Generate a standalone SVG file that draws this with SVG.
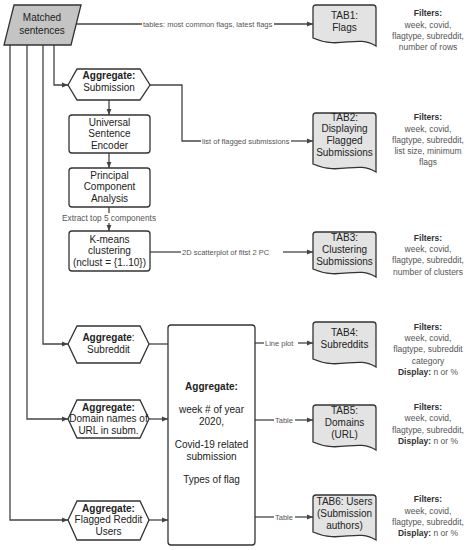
<svg xmlns="http://www.w3.org/2000/svg" width="467" height="550" viewBox="0 0 467 550">
<defs>
<marker id="ah" viewBox="0 0 10 10" refX="10" refY="5" markerWidth="6" markerHeight="6" markerUnits="userSpaceOnUse" orient="auto">
<path d="M0,1 L10,5 L0,9 Z" fill="#444"/>
</marker>
<style>
.ln{fill:none;stroke:#444;stroke-width:1.3}
.ar{marker-end:url(#ah)}
.nd{fill:#fff;stroke:#333;stroke-width:1.3}
.doc{fill:#e3e3e3;stroke:#333;stroke-width:1.3}
.par{fill:#c4c4c4;stroke:#333;stroke-width:1.3}
.t{font-family:"Liberation Sans",Arial,sans-serif;font-size:10px;fill:#222;text-anchor:middle}
.b{font-weight:bold}
.lb{font-family:"Liberation Sans",Arial,sans-serif;font-size:7.5px;fill:#555}
.f{font-family:"Liberation Sans",Arial,sans-serif;font-size:8.5px;fill:#555;text-anchor:middle}
.fb{font-weight:bold;fill:#333}
</style>
</defs>
<g id="connectors">
<path class="ln ar" d="M76,24 H142 M274,24 H313"/>
<path class="ln ar" d="M54,45 V85 H68"/>
<path class="ln" d="M150,85 H182 V141 H201"/>
<path class="ln ar" d="M291,141 H313"/>
<path class="ln ar" d="M109,100 V115"/>
<path class="ln ar" d="M109,153 V168"/>
<path class="ln" d="M109,207 V213"/>
<path class="ln ar" d="M109,223 V231"/>
<path class="ln" d="M150,252 H181"/>
<path class="ln ar" d="M283,252 H313"/>
<path class="ln ar" d="M43,45 V344 H68"/>
<path class="ln ar" d="M27,45 V419 H68"/>
<path class="ln ar" d="M10,45 V520 H68"/>
<path class="ln" d="M149,344 H168"/>
<path class="ln ar" d="M149,419 H168"/>
<path class="ln ar" d="M149,520 H168"/>
<path class="ln" d="M255,343 H264"/>
<path class="ln ar" d="M298,343 H313"/>
<path class="ln" d="M255,420 H274"/>
<path class="ln ar" d="M295,420 H313"/>
<path class="ln" d="M255,517 H274"/>
<path class="ln ar" d="M295,517 H313"/>
<text class="lb" x="143" y="26.7">tables: most common flags, latest flags</text>
<text class="lb" x="202" y="143.7">list of flagged submissions</text>
<text class="lb" x="109" y="220.8" text-anchor="middle" style="font-size:8.3px">Extract top 5 components</text>
<text class="lb" x="182" y="254.7">2D scatterplot of  fitst 2 PC</text>
<text class="lb" x="265" y="345.7">Line plot</text>
<text class="lb" x="275" y="422.7">Table</text>
<text class="lb" x="275" y="519.7">Table</text>
</g>
<g id="matched">
<path class="par" d="M14,5 H81 L71,45 H4 Z"/>
<text class="t" x="42" y="20.5">Matched</text>
<text class="t" x="42" y="34">sentences</text>
</g>
<g id="agg-submission">
<path class="nd" d="M68,85 L77,69 H140 L150,85 L140,100 H77 Z"/>
<text class="t b" x="109" y="78.5">Aggregate:</text>
<text class="t" x="109" y="90.5">Submission</text>
</g>
<g id="use">
<rect class="nd" x="69" y="115" width="81" height="38" rx="3"/>
<text class="t" x="109.5" y="125.5">Universal</text>
<text class="t" x="109.5" y="137">Sentence</text>
<text class="t" x="109.5" y="148.5">Encoder</text>
</g>
<g id="pca">
<rect class="nd" x="69" y="168" width="81" height="39" rx="3"/>
<text class="t" x="109.5" y="178.5">Principal</text>
<text class="t" x="109.5" y="190">Component</text>
<text class="t" x="109.5" y="201.5">Analysis</text>
</g>
<g id="kmeans">
<rect class="nd" x="69" y="231" width="81" height="40" rx="3"/>
<text class="t" x="109.5" y="242.5">K-means</text>
<text class="t" x="109.5" y="254">clustering</text>
<text class="t" x="109.5" y="265.5">(nclust = {1..10})</text>
</g>
<g id="agg-subreddit">
<path class="nd" d="M68,344 L77,326 H140 L149,344 L140,363 H77 Z"/>
<text class="t" x="108.5" y="340.5"><tspan class="b">Aggregate</tspan>:</text>
<text class="t" x="108.5" y="352.5">Subreddit</text>
</g>
<g id="agg-domain">
<path class="nd" d="M68,419 L77,400 H140 L149,419 L140,438 H77 Z"/>
<text class="t b" x="108.5" y="410.5">Aggregate:</text>
<text class="t" x="108.5" y="422">Domain names of</text>
<text class="t" x="108.5" y="433.5">URL in subm.</text>
</g>
<g id="agg-users">
<path class="nd" d="M68,520 L77,501 H140 L149,520 L140,540 H77 Z"/>
<text class="t b" x="108.5" y="511.5">Aggregate:</text>
<text class="t" x="108.5" y="523">Flagged Reddit</text>
<text class="t" x="108.5" y="534.5">Users</text>
</g>
<g id="agg-main">
<rect class="nd" x="168" y="325" width="87" height="220" rx="3"/>
<text class="t b" x="211.5" y="389.5">Aggregate:</text>
<text class="t" x="211.5" y="413">week # of year</text>
<text class="t" x="211.5" y="424.5">2020,</text>
<text class="t" x="211.5" y="447.5">Covid-19 related</text>
<text class="t" x="211.5" y="459.5">submission</text>
<text class="t" x="211.5" y="482.5">Types of flag</text>
</g>
<g id="tab1">
<path class="doc" d="M313,38 V8 Q313,5 316,5 H373 Q376,5 376,8 V46 C357,34 340,50 313,38 Z"/>
<text class="t" x="344.5" y="18.5">TAB1:</text>
<text class="t" x="344.5" y="30.5">Flags</text>
</g>
<g id="tab2">
<path class="doc" d="M313,164 V116 Q313,113 316,113 H373 Q376,113 376,116 V172 C357,160 340,176 313,164 Z"/>
<text class="t" x="344.5" y="120.5">TAB2:</text>
<text class="t" x="344.5" y="132.2">Displaying</text>
<text class="t" x="344.5" y="144">Flagged</text>
<text class="t" x="344.5" y="155.7">Submissions</text>
</g>
<g id="tab3">
<path class="doc" d="M313,269 V235 Q313,232 316,232 H373 Q376,232 376,235 V277 C357,265 340,281 313,269 Z"/>
<text class="t" x="344.5" y="240.5">TAB3:</text>
<text class="t" x="344.5" y="252.5">Clustering</text>
<text class="t" x="344.5" y="264.5">Submissions</text>
</g>
<g id="tab4">
<path class="doc" d="M313,359 V325 Q313,322 316,322 H373 Q376,322 376,325 V367 C357,355 340,371 313,359 Z"/>
<text class="t" x="344.5" y="335.5">TAB4:</text>
<text class="t" x="344.5" y="347.5">Subreddits</text>
</g>
<g id="tab5">
<path class="doc" d="M313,442 V408 Q313,405 316,405 H373 Q376,405 376,408 V450 C357,438 340,454 313,442 Z"/>
<text class="t" x="344.5" y="413.5">TAB5:</text>
<text class="t" x="344.5" y="425.5">Domains</text>
<text class="t" x="344.5" y="437.5">(URL)</text>
</g>
<g id="tab6">
<path class="doc" d="M313,532 V498 Q313,495 316,495 H373 Q376,495 376,498 V540 C357,528 340,544 313,532 Z"/>
<text class="t" x="344.5" y="504.5">TAB6: Users</text>
<text class="t" x="344.5" y="516.5">(Submission</text>
<text class="t" x="344.5" y="528.5">authors)</text>
</g>
<g id="filters1">
<text class="f fb" x="428" y="16">Filters:</text>
<text class="f" x="428" y="27.5">week, covid,</text>
<text class="f" x="428" y="38.5">flagtype, subreddit,</text>
<text class="f" x="428" y="49.5">number of rows</text>
</g>
<g id="filters2">
<text class="f fb" x="428" y="120">Filters:</text>
<text class="f" x="428" y="131.5">week, covid,</text>
<text class="f" x="428" y="143">flagtype, subreddit,</text>
<text class="f" x="428" y="154">list size, minimum</text>
<text class="f" x="428" y="165">flags</text>
</g>
<g id="filters3">
<text class="f fb" x="428" y="241">Filters:</text>
<text class="f" x="428" y="252">week, covid,</text>
<text class="f" x="428" y="263">flagtype, subreddit,</text>
<text class="f" x="428" y="274.5">number of clusters</text>
</g>
<g id="filters4">
<text class="f fb" x="428" y="330">Filters:</text>
<text class="f" x="428" y="341">week, covid,</text>
<text class="f" x="428" y="352">flagtype, subreddit</text>
<text class="f" x="428" y="363.5">category</text>
<text class="f" x="428" y="374.5"><tspan class="fb">Display:</tspan> n or %</text>
</g>
<g id="filters5">
<text class="f fb" x="428" y="410">Filters:</text>
<text class="f" x="428" y="421">week, covid,</text>
<text class="f" x="428" y="432.5">flagtype, subreddit,</text>
<text class="f" x="428" y="443.5"><tspan class="fb">Display:</tspan> n or %</text>
</g>
<g id="filters6">
<text class="f fb" x="428" y="502">Filters:</text>
<text class="f" x="428" y="513.5">week, covid,</text>
<text class="f" x="428" y="524.5">flagtype, subreddit,</text>
<text class="f" x="428" y="535.5"><tspan class="fb">Display:</tspan> n or %</text>
</g>
</svg>
